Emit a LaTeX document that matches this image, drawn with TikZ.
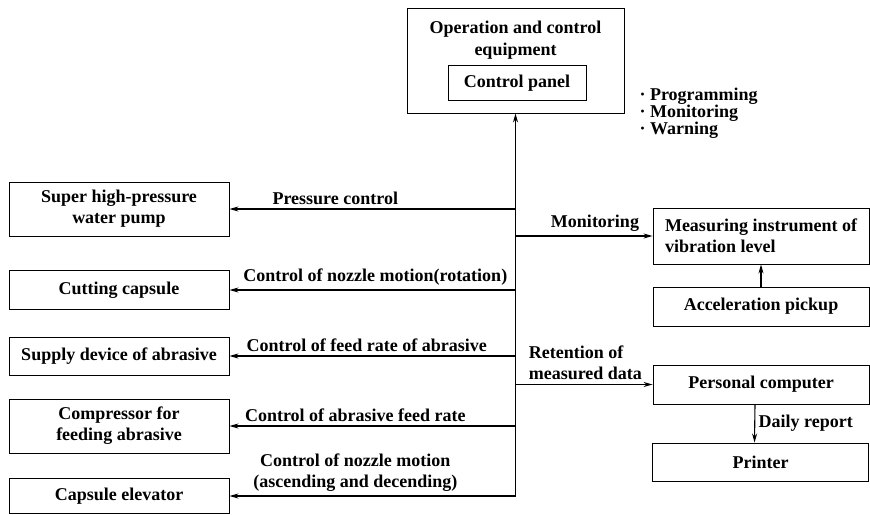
\documentclass[tikz,border=0pt]{standalone}
\usepackage{fontspec}
\setmainfont{Liberation Serif}
\usetikzlibrary{arrows.meta}

\begin{document}
\begin{tikzpicture}[x=1pt, y=-1pt,
	font=\fontsize{18}{21}\selectfont\bfseries,
	box/.style={draw, rectangle, line width=0.9pt, inner sep=0pt, align=center},
	leftbox/.style={box, minimum width=220pt},
	rightbox/.style={box, minimum width=216pt},
	link/.style={draw, line width=1.1pt, -{Stealth[length=9pt, width=5pt]}},
	lbl/.style={above, inner sep=4pt, align=center}]
{
	\useasboundingbox (0,0) rectangle (870,514);
	% control equipment on top
	\node[box, minimum width=217pt, minimum height=105pt] (Equipment) at (515.5,60.5) {};
	\node[align=center, font=\fontsize{18}{22}\selectfont\bfseries] (EquipmentTitle) at (515.5,40) {Operation and control\\equipment};
	\node[box, minimum width=138pt, minimum height=35pt] (Panel) at (517,83) {Control panel};
	\node[anchor=west, align=left, font=\fontsize{18}{17}\selectfont\bfseries] (Tasks) at (636,113) {· Programming\\· Monitoring\\· Warning};
	% left column
	\node[leftbox, minimum height=54pt] (Pump) at (119,209) {Super high-pressure\\water pump};
	\node[leftbox, minimum height=39pt] (Capsule) at (119,290) {Cutting capsule};
	\node[leftbox, minimum height=38pt] (Supply) at (119,356) {Supply device of abrasive};
	\node[leftbox, minimum height=54pt] (Compressor) at (119,426) {Compressor for\\feeding abrasive};
	\node[leftbox, minimum height=35pt] (Elevator) at (119,496) {Capsule elevator};
	% right column
	\node[rightbox, minimum height=56pt, align=left] (Measure) at (761,236) {Measuring instrument of\\vibration level};
	\node[rightbox, minimum height=39pt] (Pickup) at (761,306.5) {Acceleration pickup};
	\node[rightbox, minimum height=39pt] (Computer) at (761,384.5) {Personal computer};
	\node[rightbox, minimum height=38pt] (Printer) at (760.5,462) {Printer};
	% trunk and branches
	\draw[link] (Elevator.east -| Equipment.south) -- (Equipment.south);
	\draw[link] (Pump.east -| Equipment.south) -- node[lbl, pos=0.63] {Pressure control} (Pump.east);
	\draw[link] (Capsule.east -| Equipment.south) -- node[lbl, pos=0.49] {Control of nozzle motion(rotation)} (Capsule.east);
	\draw[link] (Supply.east -| Equipment.south) -- node[lbl, pos=0.52] {Control of feed rate of abrasive} (Supply.east);
	\draw[link] (Compressor.east -| Equipment.south) -- node[lbl, pos=0.56] {Control of abrasive feed rate} (Compressor.east);
	\draw[link] (Elevator.east -| Equipment.south) -- node[lbl, pos=0.56] {Control of nozzle motion\\(ascending and decending)} (Elevator.east);
	\draw[link] (Measure.west -| Equipment.south) -- node[lbl, pos=0.58] {Monitoring} (Measure.west);
	\draw[link] (Computer.west -| Equipment.south) -- node[lbl, pos=0.51, align=left] {Retention of\\measured data} (Computer.west);
	\draw[link] (Pickup.north) -- (Measure.south);
	\draw[link] ([xshift=-6pt]Computer.south) -- node[right] {Daily report} ([xshift=-6pt]Printer.north);
}
\end{tikzpicture}
\end{document}
